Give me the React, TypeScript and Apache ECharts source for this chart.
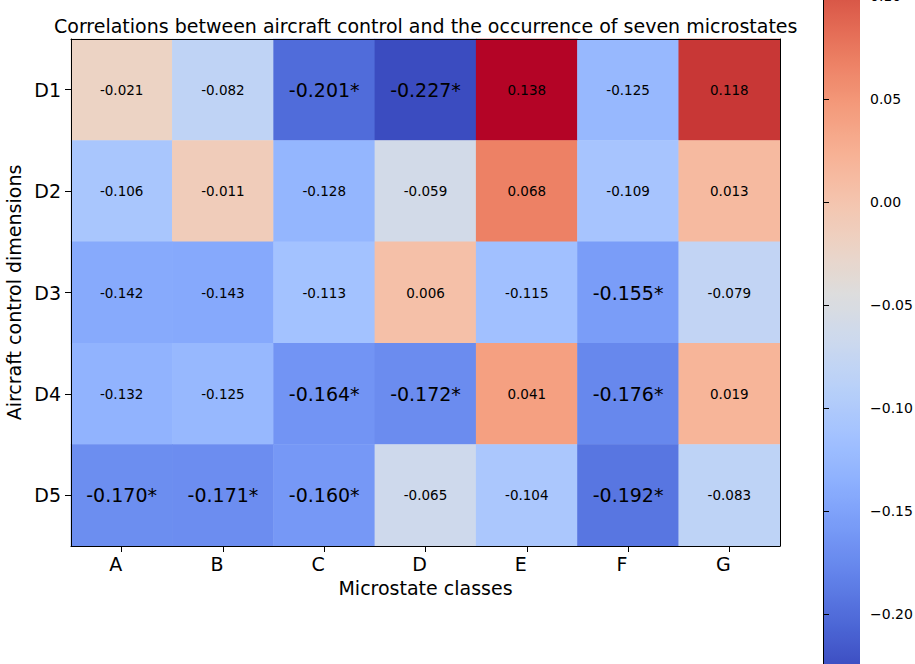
import React, { useEffect, useRef } from 'react';
import * as echarts from 'echarts';

const xCategories = ['A', 'B', 'C', 'D', 'E', 'F', 'G'];
const yCategories = ['D1', 'D2', 'D3', 'D4', 'D5'];

const rowD1 = [-0.021, -0.082, -0.201, -0.227, 0.138, -0.125, 0.118];
const rowD2 = [-0.106, -0.011, -0.128, -0.059, 0.068, -0.109, 0.013];
const rowD3 = [-0.142, -0.143, -0.113, 0.006, -0.115, -0.155, -0.079];
const rowD4 = [-0.132, -0.125, -0.164, -0.172, 0.041, -0.176, 0.019];
const rowD5 = [-0.170, -0.171, -0.160, -0.065, -0.104, -0.192, -0.083];

const sigD1 = [false, false, true, true, false, false, false];
const sigD2 = [false, false, false, false, false, false, false];
const sigD3 = [false, false, false, false, false, true, false];
const sigD4 = [false, false, true, true, false, true, false];
const sigD5 = [true, true, true, false, false, true, false];

const rows = [rowD1, rowD2, rowD3, rowD4, rowD5];
const sigs = [sigD1, sigD2, sigD3, sigD4, sigD5];

const colorMin = -0.227;
const colorMax = 0.138;
const colorbarTicks = [-0.2, -0.15, -0.1, -0.05, 0, 0.05, 0.1];

// matplotlib "coolwarm" colormap stops (evenly spaced)
const coolwarm = [
  'rgb(59,76,192)', 'rgb(77,104,215)', 'rgb(98,130,234)', 'rgb(119,154,247)',
  'rgb(141,176,254)', 'rgb(163,194,255)', 'rgb(184,208,249)', 'rgb(204,217,238)',
  'rgb(221,221,221)', 'rgb(236,211,197)', 'rgb(245,196,173)', 'rgb(247,177,148)',
  'rgb(244,154,123)', 'rgb(236,127,99)', 'rgb(222,96,77)', 'rgb(203,62,56)',
  'rgb(180,4,38)'
];

export default function App() {
  const ref = useRef<HTMLDivElement>(null);
  useEffect(() => {
    if (!ref.current) return;
    const chart = echarts.init(ref.current, undefined, { renderer: 'svg' });
    const data: any[] = [];
    rows.forEach((row, r) => {
      row.forEach((v, c) => {
        data.push([c, r, v, sigs[r][c] ? 1 : 0]);
      });
    });
    const fmtMinus = (v: number) => v.toFixed(2).replace('-', '\u2212');
    const option: any = {
      animation: false,
      backgroundColor: '#fff',
      textStyle: { fontFamily: 'DejaVu Sans', color: '#000' },
      title: {
        text: 'Correlations between aircraft control and the occurrence of seven microstates',
        left: 54,
        top: 16,
        padding: 0,
        textStyle: { fontFamily: 'DejaVu Sans', fontSize: 19, fontWeight: 'normal', color: '#000' },
      },
      grid: [
        { left: 71, top: 39, width: 709, height: 507, containLabel: false, outerBoundsMode: 'none' },
        { left: 823, top: -82, width: 37, height: 752, containLabel: false, outerBoundsMode: 'none' },
      ],
      xAxis: [
        {
          type: 'category', gridIndex: 0, data: xCategories, position: 'bottom',
          axisLine: { show: true, lineStyle: { color: '#000', width: 1 } },
          axisTick: { show: true, alignWithLabel: true, length: 6, lineStyle: { color: '#000' } },
          axisLabel: { fontSize: 19, color: '#000', margin: 8, padding: [0, 12, 0, 0] },
          name: 'Microstate classes', nameLocation: 'middle', nameGap: 32,
          nameTextStyle: { fontSize: 19, color: '#000' },
          splitLine: { show: false }, z: 10,
        },
        {
          type: 'category', gridIndex: 0, data: xCategories, position: 'top',
          axisLine: { show: true, lineStyle: { color: '#000', width: 1 } },
          axisTick: { show: false }, axisLabel: { show: false }, splitLine: { show: false }, z: 10,
        },
        {
          type: 'value', gridIndex: 1, show: false,
        },
      ],
      yAxis: [
        {
          type: 'category', gridIndex: 0, data: yCategories, inverse: true, position: 'left',
          axisLine: { show: true, lineStyle: { color: '#000', width: 1 } },
          axisTick: { show: true, alignWithLabel: true, length: 6, lineStyle: { color: '#000' } },
          axisLabel: { fontSize: 19, color: '#000', margin: 10 },
          name: 'Aircraft control dimensions', nameLocation: 'middle', nameGap: 42,
          nameTextStyle: { fontSize: 19, color: '#000' },
          splitLine: { show: false }, z: 10,
        },
        {
          type: 'category', gridIndex: 0, data: yCategories, inverse: true, position: 'right',
          axisLine: { show: true, lineStyle: { color: '#000', width: 1 } },
          axisTick: { show: false }, axisLabel: { show: false }, splitLine: { show: false }, z: 10,
        },
        {
          type: 'value', gridIndex: 1, min: colorMin, max: colorMax, position: 'right',
          axisLine: { show: true, lineStyle: { color: '#000', width: 1 } },
          axisTick: { show: true, length: 6, lineStyle: { color: '#000' }, customValues: colorbarTicks },
          axisLabel: { fontSize: 14, color: '#000', margin: 10, customValues: colorbarTicks, formatter: (v: number) => fmtMinus(v) },
          splitLine: { show: false }, z: 10,
        },
        {
          type: 'value', gridIndex: 1, min: colorMin, max: colorMax, position: 'left',
          axisLine: { show: true, lineStyle: { color: '#000', width: 1 } },
          axisTick: { show: false }, axisLabel: { show: false }, splitLine: { show: false }, z: 10,
        },
      ],
      visualMap: {
        type: 'continuous',
        min: colorMin,
        max: colorMax,
        seriesIndex: 0,
        dimension: 2,
        calculable: false,
        orient: 'vertical',
        left: 823,
        top: -82,
        itemWidth: 37,
        itemHeight: 752,
        padding: 0,
        inRange: { color: coolwarm },
      },
      series: [
        {
          type: 'heatmap',
          xAxisIndex: 0,
          yAxisIndex: 0,
          data,
          label: {
            show: true,
            color: '#000',
            formatter: (p: any) => {
              const v = p.data[2] as number;
              const s = v.toFixed(3);
              return p.data[3] ? `{s|${s}*}` : `{n|${s}}`;
            },
            rich: {
              s: { fontSize: 19, color: '#000', fontFamily: 'DejaVu Sans' },
              n: { fontSize: 13.5, color: '#000', fontFamily: 'DejaVu Sans' },
            },
          },
          emphasis: { disabled: true },
        },
      ],
    };
    chart.setOption(option);
    return () => chart.dispose();
  }, []);
  return <div ref={ref} style={{ position: 'fixed', left: 0, top: 0, width: 915, height: 664 }} />;
}
